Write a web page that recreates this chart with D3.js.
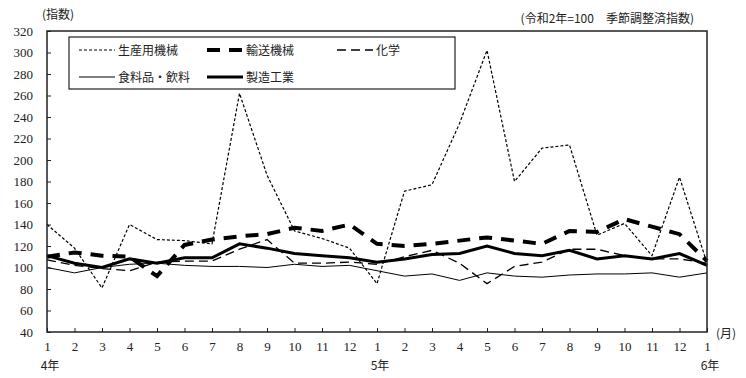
<!DOCTYPE html>
<html>
<head>
<meta charset="utf-8">
<script src="https://cdn.jsdelivr.net/npm/d3@7"></script>
<style>
  body { margin: 0; background: #fff; }
  svg { display: block; }
  .num { font-family: "Liberation Serif", serif; font-size: 13px; fill: #222; }
  .jp { font-family: "Noto Sans CJK JP", sans-serif; font-size: 12px; fill: #222; }
</style>
</head>
<body>
<svg id="chart" width="746" height="378"></svg>
<script>
// months 4年1月 .. 6年1月
const monthLabels = ["1","2","3","4","5","6","7","8","9","10","11","12",
                     "1","2","3","4","5","6","7","8","9","10","11","12","1"];
const yearLabels = [{i: 0, t: "4年"}, {i: 12, t: "5年"}, {i: 24, t: "6年"}];
const yTicks = [40,60,80,100,120,140,160,180,200,220,240,260,280,300,320];

const seisan   = [140,118,81,140,126,125,122,262,186,134,127,118,85,171,177,234,302,180,211,214,130,141,111,184,104];
const yuso     = [110,114,111,110,92,121,126,129,131,137,134,140,122,120,122,125,128,125,122,134,133,145,138,131,106];
const kagaku   = [107,102,99,97,105,106,106,117,126,104,104,105,103,110,116,104,85,101,105,117,117,111,108,108,104];
const shokuryo = [100,95,100,103,104,102,101,101,100,103,101,102,97,92,94,88,95,92,91,93,94,94,95,91,95];
const seizo    = [111,104,100,108,104,109,109,122,118,113,111,109,105,108,112,113,120,113,111,116,108,111,108,113,102];

const series = [
  {name: "生産用機械",   data: seisan,   w: 1.2, dash: "3,2"},
  {name: "輸送機械",     data: yuso,     w: 4,   dash: "13,9"},
  {name: "化学",         data: kagaku,   w: 1.3, dash: "9,5"},
  {name: "食料品・飲料", data: shokuryo, w: 1,   dash: null},
  {name: "製造工業",     data: seizo,    w: 3,   dash: null}
];

const svg = d3.select("#chart");
const m = {left: 47, right: 707, top: 31, bottom: 332};

const x = d3.scaleLinear().domain([0, 24]).range([m.left, m.right]);
const y = d3.scaleLinear().domain([40, 320]).range([m.bottom, m.top]);

// y axis ticks (inside)
const yAxis = d3.axisLeft(y).tickValues(yTicks).tickSize(-4).tickPadding(14).tickSizeOuter(0);
const gy = svg.append("g").attr("transform", `translate(${m.left},0)`).call(yAxis);
gy.select(".domain").remove();
gy.selectAll("line").attr("stroke", "#222");
gy.selectAll("text").attr("class", "num").attr("font-family", null).attr("font-size", null);

// x axis ticks (inside)
const xAxis = d3.axisBottom(x).tickValues(d3.range(25)).tickSize(-4).tickPadding(10)
  .tickFormat(i => monthLabels[i]).tickSizeOuter(0);
const gx = svg.append("g").attr("transform", `translate(0,${m.bottom})`).call(xAxis);
gx.select(".domain").remove();
gx.selectAll("line").attr("stroke", "#222");
gx.selectAll("text").attr("class", "num").attr("font-family", null).attr("font-size", null);

svg.selectAll(".year").data(yearLabels).enter().append("text")
  .attr("class", "jp")
  .attr("x", d => x(d.i) + 3)
  .attr("y", 370)
  .attr("text-anchor", "middle")
  .text(d => d.t);

// lines
const line = d3.line().x((d, i) => x(i)).y(d => y(d));
series.forEach(s => {
  svg.append("path")
    .datum(s.data)
    .attr("d", line)
    .attr("fill", "none")
    .attr("stroke", "#000")
    .attr("stroke-width", s.w)
    .attr("stroke-dasharray", s.dash);
});

// frame
svg.append("rect")
  .attr("x", m.left).attr("y", m.top)
  .attr("width", m.right - m.left).attr("height", m.bottom - m.top)
  .attr("fill", "none").attr("stroke", "#222").attr("stroke-width", 1.5);

// legend
const lg = svg.append("g");
lg.append("rect").attr("x", 69).attr("y", 37).attr("width", 386).attr("height", 52)
  .attr("fill", "#fff").attr("stroke", "#222").attr("stroke-width", 1.2);
const legPos = [[79, 50], [207, 50], [337, 50], [79, 77], [207, 77]];
series.forEach((s, i) => {
  const [lx, ly] = legPos[i];
  lg.append("line")
    .attr("x1", lx).attr("x2", lx + 36).attr("y1", ly).attr("y2", ly)
    .attr("stroke", "#000").attr("stroke-width", s.w)
    .attr("stroke-dasharray", s.dash);
  lg.append("text").attr("class", "jp")
    .attr("x", lx + 39).attr("y", ly + 4.5)
    .text(s.name);
});

// notes
svg.append("text").attr("class", "jp").attr("x", 42).attr("y", 19).text("(指数)");
svg.append("text").attr("class", "jp").attr("x", 694).attr("y", 23)
  .attr("text-anchor", "end").text("(令和2年=100　季節調整済指数)");
svg.append("text").attr("class", "jp").attr("x", 716).attr("y", 338).text("(月)");
</script>
</body>
</html>
